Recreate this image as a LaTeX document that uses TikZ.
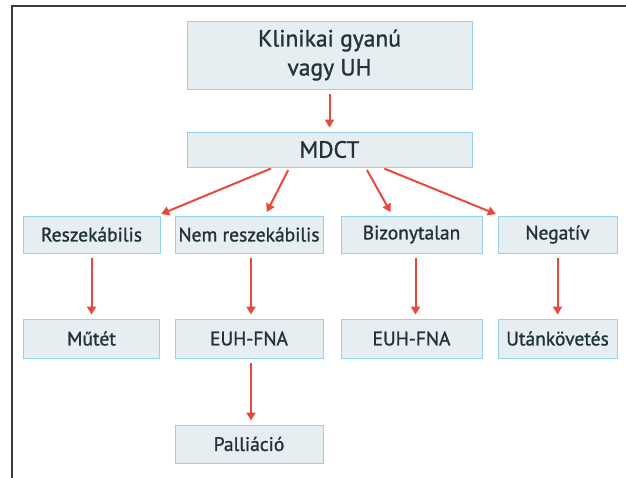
\documentclass[tikz,border=0pt]{standalone}
\usepackage{fontspec}
\setmainfont{PT Sans}[RawFeature={embolden=1.2}]
\usetikzlibrary{arrows.meta}
\definecolor{boxfill}{HTML}{E7EEF2}
\definecolor{boxline}{HTML}{95D2EF}
\definecolor{arrred}{HTML}{E8493A}
\definecolor{ink}{HTML}{22333A}
\definecolor{frame}{HTML}{3A3A3A}
\tikzset{
  fl/.style={x=1bp,y=-1bp,text=ink},
  bx/.style={draw=boxline,fill=boxfill,line width=.9bp,inner sep=0pt,align=center,
    font=\fontsize{19.5bp}{23bp}\selectfont,minimum height=37bp},
  big/.style={font=\fontsize{23.5bp}{29bp}\selectfont},
  arr/.style={arrred,line width=2bp,-{Triangle[length=8bp,width=9bp]},shorten <=5bp,shorten >=4bp}
}

\begin{document}
\begin{tikzpicture}[fl]
  \useasboundingbox (0,0) rectangle (626,478);
  % frame
  \draw[frame,line width=1.4bp] (626,6)--(12,6)--(12,478);
  % top
  \node[bx,big,minimum width=285bp,minimum height=68bp] (gyanu) at (329.5,55) {Klinikai gyanú\\vagy UH};
  \node[bx,big,minimum width=285bp,minimum height=35bp] (mdct) at (329.5,149.5) {MDCT};
  % second row
  \node[bx,minimum width=137bp] (resz) at (91.5,234.5) {Reszekábilis};
  \node[bx,minimum width=148bp] (nemresz) at (249,234.5) {Nem reszekábilis};
  \node[bx,minimum width=141bp] (bizony) at (411.5,234.5) {Bizonytalan};
  \node[bx,minimum width=119bp] (negativ) at (557.5,234.5) {Negatív};
  % third row
  \node[bx,minimum width=136bp,minimum height=39bp] (mutet) at (91.5,338.5) {Műtét};
  \node[bx,minimum width=148bp,minimum height=39bp] (euha) at (249,338.5) {EUH-FNA};
  \node[bx,minimum width=141bp,minimum height=39bp] (euhb) at (411.5,338.5) {EUH-FNA};
  \node[bx,minimum width=119bp,minimum height=39bp] (utan) at (557.5,338.5) {Utánkövetés};
  \node[bx,minimum width=148bp,minimum height=38bp] (pall) at (249,444) {Palliáció};
  % arrows
  \draw[arr] (gyanu.south) -- (mdct.north);
  \draw[arr,shorten <=3bp] ([xshift=-56bp]mdct.south) -- ([xshift=-3bp]resz.north east);
  \draw[arr,shorten <=3bp] ([xshift=-40bp]mdct.south) -- ([xshift=16bp]nemresz.north);
  \draw[arr,shorten <=3bp] ([xshift=36bp]mdct.south) -- ([xshift=-19bp]bizony.north);
  \draw[arr,shorten <=3bp] ([xshift=52bp]mdct.south) -- ([xshift=2bp]negativ.north west);
  \draw[arr] (resz.south) -- (mutet.north);
  \draw[arr] ([xshift=2bp]nemresz.south) -- ([xshift=2bp]euha.north);
  \draw[arr] ([xshift=4bp]bizony.south) -- ([xshift=4bp]euhb.north);
  \draw[arr] (negativ.south) -- (utan.north);
  \draw[arr] ([xshift=2bp]euha.south) -- ([xshift=2bp]pall.north);
\end{tikzpicture}
\end{document}
